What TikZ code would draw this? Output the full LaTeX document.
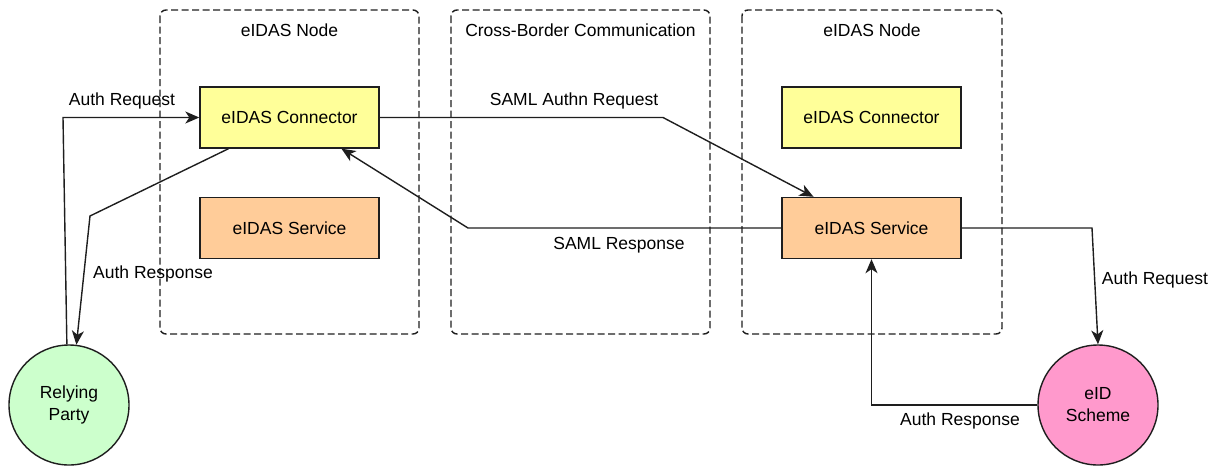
\documentclass[tikz,border=0pt]{standalone}
\usepackage{fontspec}
\setmainfont{Liberation Sans}
\usetikzlibrary{arrows.meta,calc}
\definecolor{cyel}{HTML}{FFFF99}
\definecolor{corg}{HTML}{FFCC99}
\definecolor{cgrn}{HTML}{CCFFCC}
\definecolor{cpnk}{HTML}{FF99CC}
\definecolor{cline}{HTML}{1E1E1E}
\tikzset{
  group/.style={draw=cline, line width=1.4pt, dash pattern=on 7pt off 3.5pt, rounded corners=6pt},
  comp/.style={draw=cline, line width=1.4pt, minimum width=179pt, minimum height=61pt, inner sep=0pt},
  actor/.style={draw=cline, line width=1.4pt, circle, minimum size=120pt, inner sep=0pt, align=center},
  lbl/.style={inner sep=1pt},
  conn/.style={draw=cline, line width=1.4pt, -{Stealth[length=14pt,width=12pt,inset=4pt]}},
}
\begin{document}
\begin{tikzpicture}[x=1pt,y=-1pt,font=\fontsize{17.5}{22}\selectfont]
\useasboundingbox (0,0) rectangle (1217,466);
% groups
\draw[group] (160,10) rectangle (419,334);
\draw[group] (451,10) rectangle (710,334);
\draw[group] (742,10) rectangle (1002,334);
\node[lbl] (t1) at (289.5,30) {eIDAS Node};
\node[lbl] (t2) at (580.5,30) {Cross-Border Communication};
\node[lbl] (t3) at (872,30) {eIDAS Node};
% components
\node[comp, fill=cyel] (conL) at (289.5,117.5) {eIDAS Connector};
\node[comp, fill=corg] (serL) at (289.5,228) {eIDAS Service};
\node[comp, fill=cyel] (conR) at (871.5,117.5) {eIDAS Connector};
\node[comp, fill=corg] (serR) at (871.5,228) {eIDAS Service};
% actors
\node[actor, fill=cgrn] (RP) at (69,405) {Relying\\Party};
\node[actor, fill=cpnk] (eID) at (1098,405) {eID\\Scheme};
% bend coordinates
\coordinate (b1) at (63,117.5);
\coordinate (b2) at (90,216);
\coordinate (b3) at (663,117.5);
\coordinate (b4) at (468,228);
\coordinate (b5) at (1092,228);
% connectors
\draw[conn] (RP.92) -- (b1) -- (conL.west);
\draw[conn] ($(conL.south)+(-61,0)$) -- (b2) -- (RP.83);
\draw[conn] (conL.east) -- (b3) -- ($(serR.north)+(-58,0)$);
\draw[conn] (serR.west) -- (b4) -- ($(conL.south)+(52,0)$);
\draw[conn] (serR.east) -- (b5) -- (eID.north);
\draw[conn] (eID.west) -- (eID.west -| serR.south) -- (serR.south);
% labels
\node[lbl] (l1) at (122,101) {Auth Request};
\node[lbl] (l2) at (153,274) {Auth Response};
\node[lbl] (l3) at (574,101) {SAML Authn Request};
\node[lbl] (l4) at (619,245) {SAML Response};
\node[lbl] (l5) at (1155,280) {Auth Request};
\node[lbl] (l6) at (960,421) {Auth Response};
\end{tikzpicture}
\end{document}
